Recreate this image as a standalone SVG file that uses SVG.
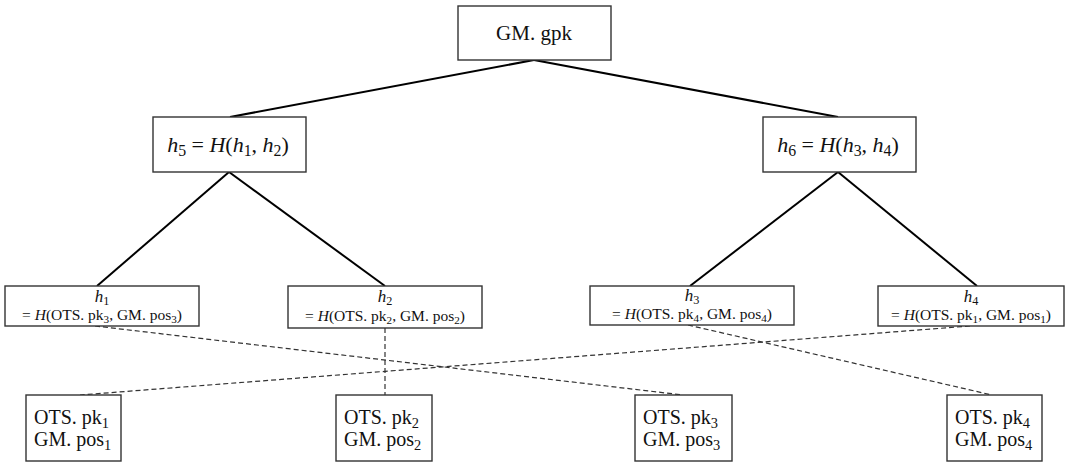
<svg xmlns="http://www.w3.org/2000/svg" width="1065" height="463" viewBox="0 0 1065 463">
  <style>
    .box { fill: #fff; stroke: #333; stroke-width: 1.4; }
    .edge { stroke: #000; stroke-width: 2; fill: none; }
    .link { stroke: #333; stroke-width: 1.2; stroke-dasharray: 5 3; fill: none; }
    text { font-family: "Liberation Serif", "DejaVu Serif", serif; fill: #111; text-anchor: middle; }
    .t20 { font-size: 21px; }
    .t22 { font-size: 22px; }
    .t15 { font-size: 15.5px; }
    .th { font-size: 17px; }
    .t19 { font-size: 20px; text-anchor: start; }
    .i { font-style: italic; }
    .s { font-size: 0.72em; }
  </style>
  <rect width="1065" height="463" fill="#fff"/>

  <g id="connectors">
    <line class="edge" x1="534" y1="60" x2="230" y2="117"/>
    <line class="edge" x1="534" y1="60" x2="838" y2="117"/>
    <line class="edge" x1="229" y1="172" x2="97" y2="286"/>
    <line class="edge" x1="229" y1="172" x2="385" y2="286"/>
    <line class="edge" x1="838" y1="172" x2="690" y2="286"/>
    <line class="edge" x1="838" y1="172" x2="977" y2="286"/>
    <line class="link" x1="95" y1="326" x2="683" y2="395"/>
    <line class="link" x1="385" y1="328" x2="385" y2="395"/>
    <line class="link" x1="688" y1="325" x2="992" y2="395"/>
    <line class="link" x1="970" y1="326" x2="80" y2="395"/>
  </g>

  <g id="root">
    <rect class="box" x="458" y="6" width="153" height="54"/>
    <text class="t20" x="534" y="40">GM. gpk</text>
  </g>

  <g id="h5">
    <rect class="box" x="153" y="117" width="153" height="55"/>
    <text class="t22" x="228" y="152"><tspan class="i">h</tspan><tspan class="s" dy="4">5</tspan><tspan dy="-4"> = </tspan><tspan class="i">H</tspan><tspan>(</tspan><tspan class="i">h</tspan><tspan class="s" dy="4">1</tspan><tspan dy="-4">, </tspan><tspan class="i">h</tspan><tspan class="s" dy="4">2</tspan><tspan dy="-4">)</tspan></text>
  </g>

  <g id="h6">
    <rect class="box" x="763" y="117" width="153" height="55"/>
    <text class="t22" x="838" y="152"><tspan class="i">h</tspan><tspan class="s" dy="4">6</tspan><tspan dy="-4"> = </tspan><tspan class="i">H</tspan><tspan>(</tspan><tspan class="i">h</tspan><tspan class="s" dy="4">3</tspan><tspan dy="-4">, </tspan><tspan class="i">h</tspan><tspan class="s" dy="4">4</tspan><tspan dy="-4">)</tspan></text>
  </g>

  <g id="h1">
    <rect class="box" x="5" y="286" width="194" height="40"/>
    <text class="th" x="102" y="302"><tspan class="i">h</tspan><tspan class="s" dy="3">1</tspan></text>
    <text class="t15" x="102" y="320"><tspan>= </tspan><tspan class="i">H</tspan><tspan>(OTS. pk</tspan><tspan class="s" dy="3">3</tspan><tspan dy="-3">, GM. pos</tspan><tspan class="s" dy="3">3</tspan><tspan dy="-3">)</tspan></text>
  </g>

  <g id="h2">
    <rect class="box" x="288" y="286" width="194" height="42"/>
    <text class="th" x="385" y="302"><tspan class="i">h</tspan><tspan class="s" dy="3">2</tspan></text>
    <text class="t15" x="385" y="321"><tspan>= </tspan><tspan class="i">H</tspan><tspan>(OTS. pk</tspan><tspan class="s" dy="3">2</tspan><tspan dy="-3">, GM. pos</tspan><tspan class="s" dy="3">2</tspan><tspan dy="-3">)</tspan></text>
  </g>

  <g id="h3">
    <rect class="box" x="590" y="286" width="204" height="39"/>
    <text class="th" x="692" y="301"><tspan class="i">h</tspan><tspan class="s" dy="3">3</tspan></text>
    <text class="t15" x="692" y="319"><tspan>= </tspan><tspan class="i">H</tspan><tspan>(OTS. pk</tspan><tspan class="s" dy="3">4</tspan><tspan dy="-3">, GM. pos</tspan><tspan class="s" dy="3">4</tspan><tspan dy="-3">)</tspan></text>
  </g>

  <g id="h4">
    <rect class="box" x="878" y="286" width="186" height="40"/>
    <text class="th" x="971" y="302"><tspan class="i">h</tspan><tspan class="s" dy="3">4</tspan></text>
    <text class="t15" x="971" y="320"><tspan>= </tspan><tspan class="i">H</tspan><tspan>(OTS. pk</tspan><tspan class="s" dy="3">1</tspan><tspan dy="-3">, GM. pos</tspan><tspan class="s" dy="3">1</tspan><tspan dy="-3">)</tspan></text>
  </g>

  <g id="leaf1">
    <rect class="box" x="26" y="395" width="95" height="66"/>
    <text class="t19" x="34" y="424">OTS. pk<tspan class="s" dy="4">1</tspan></text>
    <text class="t19" x="34" y="446">GM. pos<tspan class="s" dy="4">1</tspan></text>
  </g>

  <g id="leaf2">
    <rect class="box" x="336" y="395" width="96" height="66"/>
    <text class="t19" x="344" y="424">OTS. pk<tspan class="s" dy="4">2</tspan></text>
    <text class="t19" x="344" y="446">GM. pos<tspan class="s" dy="4">2</tspan></text>
  </g>

  <g id="leaf3">
    <rect class="box" x="635" y="395" width="97" height="66"/>
    <text class="t19" x="643" y="424">OTS. pk<tspan class="s" dy="4">3</tspan></text>
    <text class="t19" x="643" y="446">GM. pos<tspan class="s" dy="4">3</tspan></text>
  </g>

  <g id="leaf4">
    <rect class="box" x="947" y="395" width="95" height="66"/>
    <text class="t19" x="955" y="424">OTS. pk<tspan class="s" dy="4">4</tspan></text>
    <text class="t19" x="955" y="446">GM. pos<tspan class="s" dy="4">4</tspan></text>
  </g>
</svg>
